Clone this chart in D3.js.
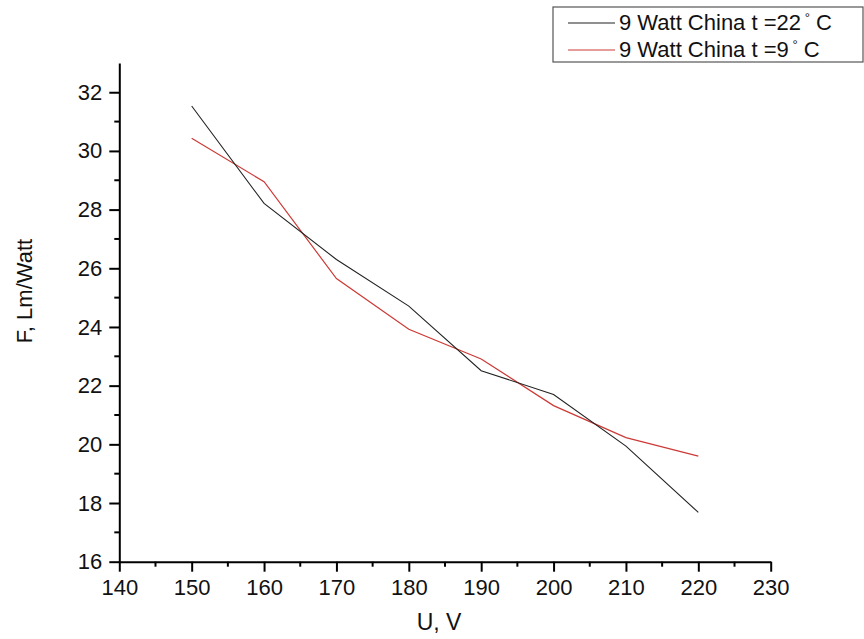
<!DOCTYPE html>
<html><head><meta charset="utf-8">
<script src="https://cdn.jsdelivr.net/npm/d3@7"></script>
<style>body{margin:0;background:#fff}text{font-family:"Liberation Sans",Arial,sans-serif}</style>
</head><body><svg id="c" width="864" height="639"></svg>
<script>
const voltages=[150,160,170,180,190,200,210,220];
const flux22=[31.53,28.21,26.3,24.71,22.51,21.7,19.94,17.68];
const flux9=[30.43,28.95,25.65,23.92,22.91,21.32,20.23,19.6];
const seriesNames=["9 Watt China t =22","9 Watt China t =9"];
const xTicks=[140,150,160,170,180,190,200,210,220,230];
const yTicks=[16,18,20,22,24,26,28,30,32];

const svg=d3.select("#c");
const x=d3.scaleLinear().domain([140,230]).range([119.3,770.7]);
const y=d3.scaleLinear().domain([16,33]).range([561.7,62.9]);

const g=svg.append("g");
const xMinor=d3.range(145,230,10);
const yMinor=d3.range(17,33,2);
g.selectAll(".xm").data(xMinor).join("line").attr("x1",d=>x(d)).attr("x2",d=>x(d)).attr("y1",y(16)).attr("y2",y(16)+5).attr("stroke","#000").attr("stroke-width",2);
g.selectAll(".ym").data(yMinor).join("line").attr("y1",d=>y(d)).attr("y2",d=>y(d)).attr("x1",x(140)).attr("x2",x(140)-5).attr("stroke","#000").attr("stroke-width",2);

const xAxis=svg.append("g").attr("transform",`translate(0,${y(16)})`).call(d3.axisBottom(x).tickValues(xTicks).tickSize(10).tickPadding(8).tickSizeOuter(0));
const yAxis=svg.append("g").attr("transform",`translate(${x(140)},0)`).call(d3.axisLeft(y).tickValues(yTicks).tickSize(10).tickPadding(7).tickSizeOuter(0));
[xAxis,yAxis].forEach(a=>{
  a.select(".domain").attr("stroke","#000").attr("stroke-width",2);
  a.selectAll(".tick line").attr("stroke","#000").attr("stroke-width",2);
  a.selectAll(".tick text").attr("font-size",22).attr("fill","#111");
});

const line=d3.line().x((d,i)=>x(voltages[i])).y(d=>y(d));
svg.append("path").datum(flux9).attr("d",line).attr("fill","none").attr("stroke","#cc3a36").attr("stroke-width",1.2);
svg.append("path").datum(flux22).attr("d",line).attr("fill","none").attr("stroke","#222").attr("stroke-width",1.1);

svg.append("text").attr("x",439).attr("y",630).attr("text-anchor","middle").attr("font-size",23).attr("fill","#111").text("U, V");
svg.append("text").attr("transform","translate(32,291) rotate(-90)").attr("text-anchor","middle").attr("font-size",22).attr("fill","#111").text("F, Lm/Watt");

const lg=svg.append("g");
lg.append("rect").attr("x",553).attr("y",7).attr("width",310).attr("height",55).attr("fill","#fff").attr("stroke","#555").attr("stroke-width",1.2);
const colors=["#222","#cc3a36"];
seriesNames.forEach((n,i)=>{
  const yy=23+i*27;
  lg.append("line").attr("x1",568).attr("x2",615).attr("y1",yy).attr("y2",yy).attr("stroke",colors[i]).attr("stroke-width",1.1);
  const t=lg.append("text").attr("x",619).attr("y",yy+7).attr("font-size",22).attr("fill","#111");
  t.append("tspan").text(n);
  t.append("tspan").attr("dy",-8).attr("font-size",13).text(" °");
  t.append("tspan").attr("dy",8).text(" C");
});
</script></body></html>
